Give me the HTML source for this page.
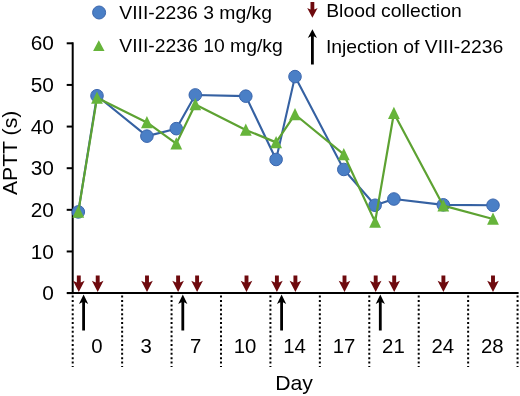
<!DOCTYPE html>
<html><head><meta charset="utf-8"><style>
html,body{margin:0;padding:0;background:#fff;}
svg{display:block;font-family:"Liberation Sans", sans-serif;will-change:transform;}

</style></head><body>
<svg width="520" height="396" viewBox="0 0 520 396" fill="#000">
<rect width="520" height="396" fill="#fff"/>
<line x1="72.7" y1="42.3" x2="72.7" y2="294.1" stroke="#000" stroke-width="2"/>
<line x1="67" y1="293.1" x2="518.6" y2="293.1" stroke="#000" stroke-width="2"/>
<line x1="66.7" y1="293.10" x2="72.7" y2="293.10" stroke="#000" stroke-width="2"/>
<text transform="translate(53.90,300.20) scale(1.065,1.0)" text-anchor="end" font-size="19.6">0</text>
<line x1="66.7" y1="251.47" x2="72.7" y2="251.47" stroke="#000" stroke-width="2"/>
<text transform="translate(53.90,258.57) scale(1.065,1.0)" text-anchor="end" font-size="19.6">10</text>
<line x1="66.7" y1="209.83" x2="72.7" y2="209.83" stroke="#000" stroke-width="2"/>
<text transform="translate(53.90,216.93) scale(1.065,1.0)" text-anchor="end" font-size="19.6">20</text>
<line x1="66.7" y1="168.20" x2="72.7" y2="168.20" stroke="#000" stroke-width="2"/>
<text transform="translate(53.90,175.30) scale(1.065,1.0)" text-anchor="end" font-size="19.6">30</text>
<line x1="66.7" y1="126.57" x2="72.7" y2="126.57" stroke="#000" stroke-width="2"/>
<text transform="translate(53.90,133.67) scale(1.065,1.0)" text-anchor="end" font-size="19.6">40</text>
<line x1="66.7" y1="84.93" x2="72.7" y2="84.93" stroke="#000" stroke-width="2"/>
<text transform="translate(53.90,92.03) scale(1.065,1.0)" text-anchor="end" font-size="19.6">50</text>
<line x1="66.7" y1="43.30" x2="72.7" y2="43.30" stroke="#000" stroke-width="2"/>
<text transform="translate(53.90,50.40) scale(1.065,1.0)" text-anchor="end" font-size="19.6">60</text>
<line x1="72.70" y1="295.6" x2="72.70" y2="367" stroke="#000" stroke-width="2" stroke-dasharray="2 2.4"/>
<line x1="122.13" y1="295.6" x2="122.13" y2="367" stroke="#000" stroke-width="2" stroke-dasharray="2 2.4"/>
<line x1="171.56" y1="295.6" x2="171.56" y2="367" stroke="#000" stroke-width="2" stroke-dasharray="2 2.4"/>
<line x1="220.99" y1="295.6" x2="220.99" y2="367" stroke="#000" stroke-width="2" stroke-dasharray="2 2.4"/>
<line x1="270.42" y1="295.6" x2="270.42" y2="367" stroke="#000" stroke-width="2" stroke-dasharray="2 2.4"/>
<line x1="319.85" y1="295.6" x2="319.85" y2="367" stroke="#000" stroke-width="2" stroke-dasharray="2 2.4"/>
<line x1="369.28" y1="295.6" x2="369.28" y2="367" stroke="#000" stroke-width="2" stroke-dasharray="2 2.4"/>
<line x1="418.71" y1="295.6" x2="418.71" y2="367" stroke="#000" stroke-width="2" stroke-dasharray="2 2.4"/>
<line x1="468.14" y1="295.6" x2="468.14" y2="367" stroke="#000" stroke-width="2" stroke-dasharray="2 2.4"/>
<line x1="517.57" y1="295.6" x2="517.57" y2="367" stroke="#000" stroke-width="2" stroke-dasharray="2 2.4"/>
<text transform="translate(96.82,353.20) scale(1.04,1.0)" text-anchor="middle" font-size="19.6">0</text>
<text transform="translate(146.25,353.20) scale(1.04,1.0)" text-anchor="middle" font-size="19.6">3</text>
<text transform="translate(195.68,353.20) scale(1.04,1.0)" text-anchor="middle" font-size="19.6">7</text>
<text transform="translate(245.10,353.20) scale(1.04,1.0)" text-anchor="middle" font-size="19.6">10</text>
<text transform="translate(294.53,353.20) scale(1.04,1.0)" text-anchor="middle" font-size="19.6">14</text>
<text transform="translate(343.96,353.20) scale(1.04,1.0)" text-anchor="middle" font-size="19.6">17</text>
<text transform="translate(393.39,353.20) scale(1.04,1.0)" text-anchor="middle" font-size="19.6">21</text>
<text transform="translate(442.82,353.20) scale(1.04,1.0)" text-anchor="middle" font-size="19.6">24</text>
<text transform="translate(492.25,353.20) scale(1.04,1.0)" text-anchor="middle" font-size="19.6">28</text>
<text transform="translate(294.00,389.50) scale(1.04,1.0)" text-anchor="middle" font-size="20.4">Day</text>
<text transform="translate(17.2,152.9) rotate(-90) scale(1.05,1)" text-anchor="middle" font-size="20.2">APTT (s)</text>
<path d="M76.85,275.4 L80.75,275.4 L80.75,282.40000000000003 L84.60,280.8 L78.80,292.0 L73.00,280.8 L76.85,282.40000000000003 Z" fill="#6e0a0e"/>
<path d="M95.75,275.4 L99.65,275.4 L99.65,282.40000000000003 L103.50,280.8 L97.70,292.0 L91.90,280.8 L95.75,282.40000000000003 Z" fill="#6e0a0e"/>
<path d="M145.05,275.4 L148.95,275.4 L148.95,282.40000000000003 L152.80,280.8 L147.00,292.0 L141.20,280.8 L145.05,282.40000000000003 Z" fill="#6e0a0e"/>
<path d="M176.15,275.4 L180.05,275.4 L180.05,282.40000000000003 L183.90,280.8 L178.10,292.0 L172.30,280.8 L176.15,282.40000000000003 Z" fill="#6e0a0e"/>
<path d="M195.15,275.4 L199.05,275.4 L199.05,282.40000000000003 L202.90,280.8 L197.10,292.0 L191.30,280.8 L195.15,282.40000000000003 Z" fill="#6e0a0e"/>
<path d="M244.55,275.4 L248.45,275.4 L248.45,282.40000000000003 L252.30,280.8 L246.50,292.0 L240.70,280.8 L244.55,282.40000000000003 Z" fill="#6e0a0e"/>
<path d="M274.95,275.4 L278.85,275.4 L278.85,282.40000000000003 L282.70,280.8 L276.90,292.0 L271.10,280.8 L274.95,282.40000000000003 Z" fill="#6e0a0e"/>
<path d="M293.45,275.4 L297.35,275.4 L297.35,282.40000000000003 L301.20,280.8 L295.40,292.0 L289.60,280.8 L293.45,282.40000000000003 Z" fill="#6e0a0e"/>
<path d="M342.55,275.4 L346.45,275.4 L346.45,282.40000000000003 L350.30,280.8 L344.50,292.0 L338.70,280.8 L342.55,282.40000000000003 Z" fill="#6e0a0e"/>
<path d="M373.75,275.4 L377.65,275.4 L377.65,282.40000000000003 L381.50,280.8 L375.70,292.0 L369.90,280.8 L373.75,282.40000000000003 Z" fill="#6e0a0e"/>
<path d="M392.25,275.4 L396.15,275.4 L396.15,282.40000000000003 L400.00,280.8 L394.20,292.0 L388.40,280.8 L392.25,282.40000000000003 Z" fill="#6e0a0e"/>
<path d="M441.45,275.4 L445.35,275.4 L445.35,282.40000000000003 L449.20,280.8 L443.40,292.0 L437.60,280.8 L441.45,282.40000000000003 Z" fill="#6e0a0e"/>
<path d="M491.05,275.4 L494.95,275.4 L494.95,282.40000000000003 L498.80,280.8 L493.00,292.0 L487.20,280.8 L491.05,282.40000000000003 Z" fill="#6e0a0e"/>
<path d="M83.60,294.4 L88.20,304.0 L85.00,302.2 L85.00,330.4 L82.20,330.4 L82.20,302.2 L79.00,304.0 Z" fill="#000"/>
<path d="M182.80,294.4 L187.40,304.0 L184.20,302.2 L184.20,330.4 L181.40,330.4 L181.40,302.2 L178.20,304.0 Z" fill="#000"/>
<path d="M281.60,294.4 L286.20,304.0 L283.00,302.2 L283.00,330.4 L280.20,330.4 L280.20,302.2 L277.00,304.0 Z" fill="#000"/>
<path d="M380.30,294.4 L384.90,304.0 L381.70,302.2 L381.70,330.4 L378.90,330.4 L378.90,302.2 L375.70,304.0 Z" fill="#000"/>
<polyline points="78.30,211.92 97.00,95.76 146.90,136.14 176.30,128.65 195.30,94.93 245.80,96.17 276.10,159.46 295.00,76.61 343.80,169.45 375.10,205.25 393.90,199.01 443.30,204.84 493.00,205.25" fill="none" stroke="#3561a2" stroke-width="2.1" stroke-linejoin="round"/>
<circle cx="78.30" cy="211.92" r="6.3" fill="#4a7fc6" stroke="#3b66ad" stroke-width="1"/>
<circle cx="97.00" cy="95.76" r="6.3" fill="#4a7fc6" stroke="#3b66ad" stroke-width="1"/>
<circle cx="146.90" cy="136.14" r="6.3" fill="#4a7fc6" stroke="#3b66ad" stroke-width="1"/>
<circle cx="176.30" cy="128.65" r="6.3" fill="#4a7fc6" stroke="#3b66ad" stroke-width="1"/>
<circle cx="195.30" cy="94.93" r="6.3" fill="#4a7fc6" stroke="#3b66ad" stroke-width="1"/>
<circle cx="245.80" cy="96.17" r="6.3" fill="#4a7fc6" stroke="#3b66ad" stroke-width="1"/>
<circle cx="276.10" cy="159.46" r="6.3" fill="#4a7fc6" stroke="#3b66ad" stroke-width="1"/>
<circle cx="295.00" cy="76.61" r="6.3" fill="#4a7fc6" stroke="#3b66ad" stroke-width="1"/>
<circle cx="343.80" cy="169.45" r="6.3" fill="#4a7fc6" stroke="#3b66ad" stroke-width="1"/>
<circle cx="375.10" cy="205.25" r="6.3" fill="#4a7fc6" stroke="#3b66ad" stroke-width="1"/>
<circle cx="393.90" cy="199.01" r="6.3" fill="#4a7fc6" stroke="#3b66ad" stroke-width="1"/>
<circle cx="443.30" cy="204.84" r="6.3" fill="#4a7fc6" stroke="#3b66ad" stroke-width="1"/>
<circle cx="493.00" cy="205.25" r="6.3" fill="#4a7fc6" stroke="#3b66ad" stroke-width="1"/>
<polyline points="78.30,211.92 97.00,97.84 146.90,122.40 176.30,143.64 195.30,104.50 245.80,129.90 276.10,142.39 295.00,114.49 343.80,154.46 375.10,221.91 393.90,113.24 443.30,205.67 493.00,218.99" fill="none" stroke="#5da232" stroke-width="2.2" stroke-linejoin="round"/>
<path d="M78.30,205.52 L84.20,217.72 L72.40,217.72 Z" fill="#66b43a"/>
<path d="M97.00,91.44 L102.90,103.64 L91.10,103.64 Z" fill="#66b43a"/>
<path d="M146.90,116.00 L152.80,128.20 L141.00,128.20 Z" fill="#66b43a"/>
<path d="M176.30,137.24 L182.20,149.44 L170.40,149.44 Z" fill="#66b43a"/>
<path d="M195.30,98.10 L201.20,110.30 L189.40,110.30 Z" fill="#66b43a"/>
<path d="M245.80,123.50 L251.70,135.70 L239.90,135.70 Z" fill="#66b43a"/>
<path d="M276.10,135.99 L282.00,148.19 L270.20,148.19 Z" fill="#66b43a"/>
<path d="M295.00,108.09 L300.90,120.29 L289.10,120.29 Z" fill="#66b43a"/>
<path d="M343.80,148.06 L349.70,160.26 L337.90,160.26 Z" fill="#66b43a"/>
<path d="M375.10,215.51 L381.00,227.71 L369.20,227.71 Z" fill="#66b43a"/>
<path d="M393.90,106.84 L399.80,119.04 L388.00,119.04 Z" fill="#66b43a"/>
<path d="M443.30,199.27 L449.20,211.47 L437.40,211.47 Z" fill="#66b43a"/>
<path d="M493.00,212.59 L498.90,224.79 L487.10,224.79 Z" fill="#66b43a"/>
<circle cx="99.1" cy="12.5" r="6.5" fill="#4a7fc6" stroke="#3b66ad" stroke-width="1"/>
<text transform="translate(119.30,19.20) scale(1.04,1.0)" text-anchor="start" font-size="18.6">VIII-2236 3 mg/kg</text>
<path d="M98.8,40.2 L104.5,51.0 L93.1,51.0 Z" fill="#66b43a"/>
<text transform="translate(119.30,51.90) scale(1.04,1.0)" text-anchor="start" font-size="18.6">VIII-2236 10 mg/kg</text>
<path d="M310.50,2.1 L314.30,2.1 L314.30,9.6 L317.60,8.0 L312.40,17.7 L307.20,8.0 L310.50,9.6 Z" fill="#6e0a0e"/>
<text transform="translate(326.20,16.80) scale(1.04,1.0)" text-anchor="start" font-size="18.6">Blood collection</text>
<path d="M312.40,29.2 L317.00,38.0 L313.80,36.2 L313.80,64.6 L311.00,64.6 L311.00,36.2 L307.80,38.0 Z" fill="#000"/>
<text transform="translate(325.90,53.00) scale(1.04,1.0)" text-anchor="start" font-size="18.6">Injection of VIII-2236</text>
</svg>
</body></html>
